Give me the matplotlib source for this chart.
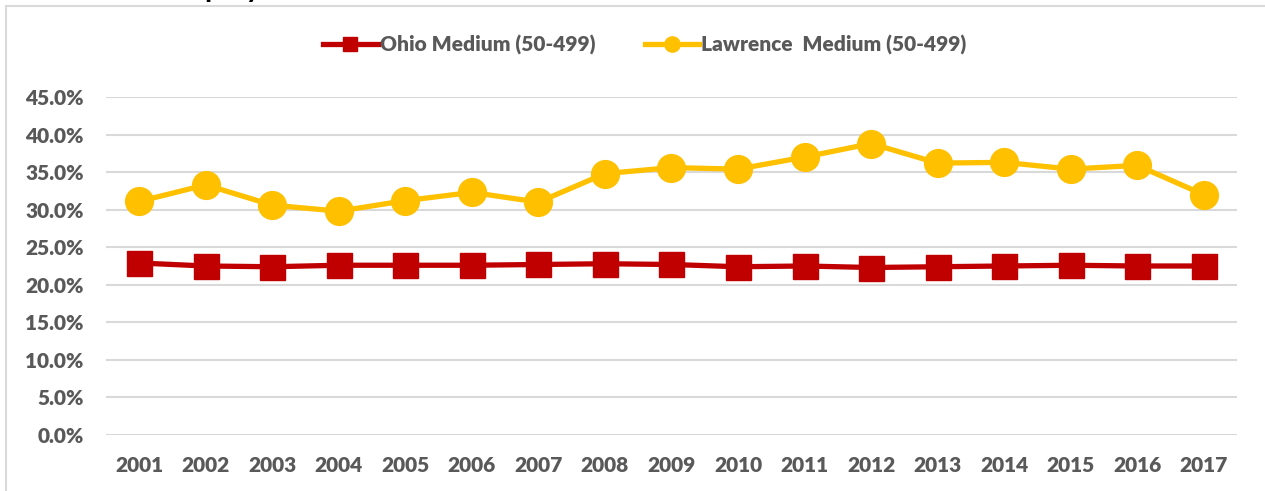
import matplotlib.pyplot as plt
import matplotlib.patches as patches
from matplotlib.ticker import FuncFormatter

# data
years = [str(y) for y in range(2001, 2018)]
ohio = [22.9, 22.5, 22.4, 22.6, 22.6, 22.6, 22.7, 22.8, 22.7, 22.4, 22.5, 22.3, 22.4, 22.5, 22.6, 22.5, 22.5]
lawrence = [31.1, 33.3, 30.6, 29.8, 31.2, 32.3, 31.0, 34.8, 35.6, 35.4, 37.0, 38.8, 36.2, 36.3, 35.4, 35.9, 32.0]

plt.rcParams['font.family'] = ['Lato', 'DejaVu Sans']
grey = '#595959'

fig = plt.figure(figsize=(12.65, 4.91), dpi=100)
W, H = 1265, 491
ax = fig.add_axes([106 / W, 1 - 435 / H, (1237 - 106) / W, (435 - 97) / H])

# outer chart border (cut off at right and bottom)
fig.patches.append(patches.Rectangle((6 / W, -0.05), 1.1, 1 - 6 / H + 0.05,
                                     transform=fig.transFigure, fill=False,
                                     edgecolor='#D9D9D9', linewidth=1.5))
# clipped title at the very top
fig.text(165 / W, 1 + 3 / H, 'Employment', fontsize=21, fontweight='bold',
         color='black', va='baseline', ha='left')

x = range(len(years))
ax.plot(x, ohio, color='#C00000', linewidth=3.8, marker='s', markersize=18,
        label='Ohio Medium (50-499)', zorder=3)
ax.plot(x, lawrence, color='#FFC000', linewidth=3.8, marker='o', markersize=20,
        label='Lawrence  Medium (50-499)', zorder=3)

ax.set_xlim(-0.5, len(years) - 0.5)
ax.set_ylim(0, 45)
ax.set_yticks([i * 5 for i in range(10)])
ax.yaxis.set_major_formatter(FuncFormatter(lambda v, p: f'{v:.1f}%'))
ax.set_xticks(list(x))
ax.set_xticklabels(years)
ax.grid(axis='y', color='#D9D9D9', linewidth=1.5)
ax.set_axisbelow(True)
for s in ax.spines.values():
    s.set_visible(False)
ax.tick_params(length=0, labelsize=15, labelcolor=grey)
ax.tick_params(axis='x', pad=15)
ax.tick_params(axis='y', pad=16)
for lbl in ax.get_xticklabels() + ax.get_yticklabels():
    lbl.set_fontweight('heavy')

leg = fig.legend(loc='center', bbox_to_anchor=(645 / W, 1 - 45 / H), ncol=2,
                 frameon=False, markerscale=0.55, handlelength=2.6,
                 columnspacing=2.4, handletextpad=0.1,
                 prop={'size': 15, 'weight': 'heavy'})
for t in leg.get_texts():
    t.set_color(grey)

fig.savefig('out.png', dpi=100)
